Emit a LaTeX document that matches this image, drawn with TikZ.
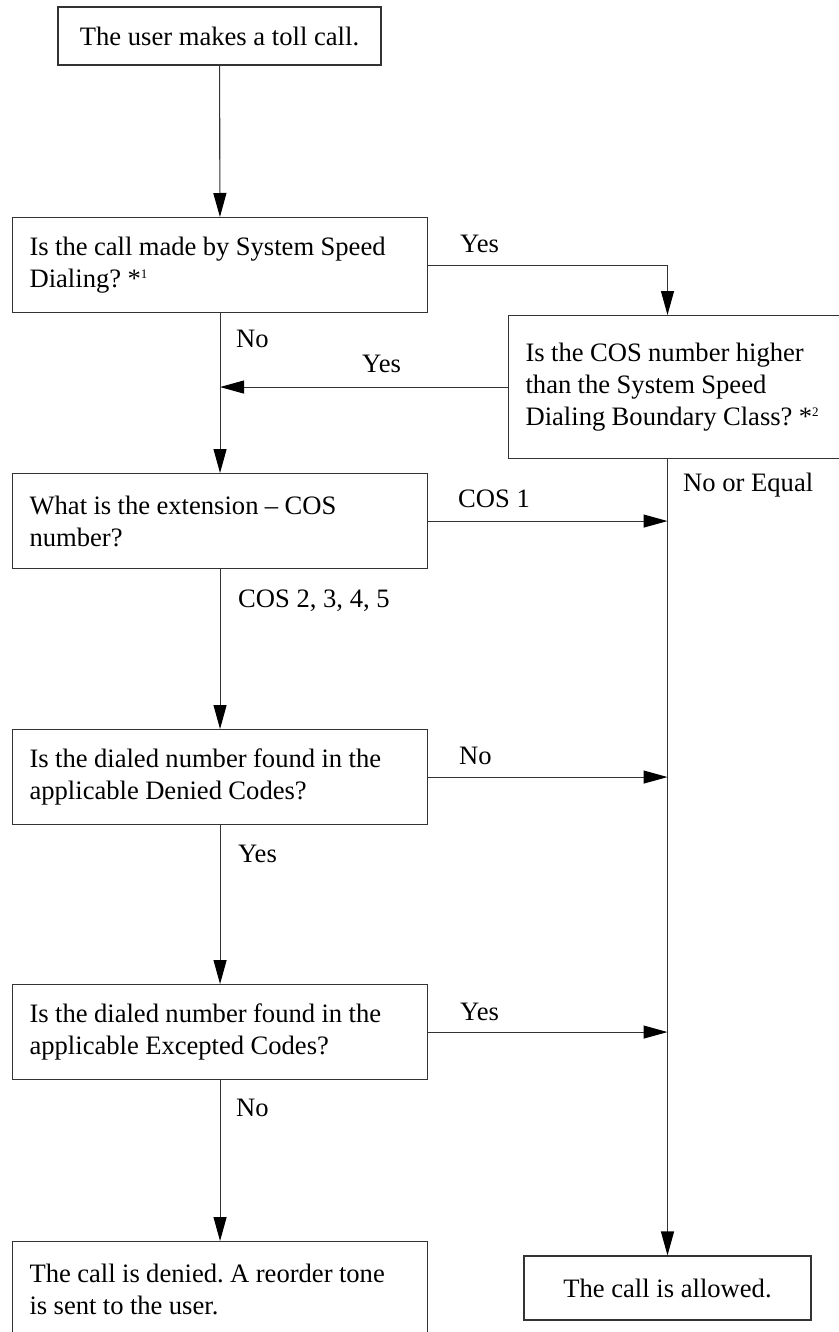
\documentclass[tikz,border=0pt]{standalone}
\usepackage{fontspec}
\setmainfont{Liberation Serif}
\usetikzlibrary{arrows.meta,positioning}
\definecolor{FlowInk}{HTML}{333333}
\newcommand{\notemark}[1]{*\raisebox{8.5pt}{\fontsize{13}{13}\selectfont #1}}
\newcommand{\boxfont}{\fontsize{26.6}{32}\selectfont\frenchspacing}
\newcommand{\tightwords}{\spaceskip=6.4pt minus 1pt\relax}
\tikzset{
  flow/.style={-{Triangle[length=24pt,width=13pt,black]}, line width=1.1pt, draw=FlowInk},
  stage/.style={draw=FlowInk, line width=1.1pt, fill=white, inner xsep=17pt, inner ysep=0pt, font=\boxfont},
  query/.style={stage, align=left, minimum width=415pt, minimum height=95pt, text width=381pt,
                execute at begin node=\tightwords},
  ending/.style={stage, align=center},
  answer/.style={inner sep=0pt, anchor=base west, font=\boxfont},
}

\begin{document}
\begin{tikzpicture}[x=1pt,y=-1pt]
        \useasboundingbox (0,0) rectangle (838,1332);
        % boxes
        \node[ending,minimum width=323pt,minimum height=58pt] (start) at (219.5,36) {The user makes a toll call.};
        \node[query,anchor=north west] (speed) at (12,217) {Is the call made by System Speed\\Dialing? \notemark{1}};
        \node[query,anchor=north west,minimum width=352pt,minimum height=143pt,text width=318pt] (boundary) at (508,315)
              {Is the COS number higher\\than the System Speed\\Dialing Boundary Class? \notemark{2}};
        \node[query,anchor=north west] (cos) at (12,473) {What is the extension -- COS\\number?};
        \node[query,anchor=north west] (denied) at (12,729) {Is the dialed number found in the\\applicable Denied Codes?};
        \node[query,anchor=north west] (excepted) at (12,984) {Is the dialed number found in the\\applicable Excepted Codes?};
        \node[query,anchor=north west] (reject) at (12,1241) {The call is denied. A reorder tone\\is sent to the user.};
        \node[ending,minimum width=287pt,minimum height=64pt] (allowed) at (667.5,1288) {The call is allowed.};
        % answers
        \node[answer] (yes1) at (460,252) {Yes};
        \node[answer] (no1) at (236,347) {No};
        \node[answer] (yes2) at (362,372) {Yes};
        \node[answer] (noeq) at (683,491) {No or Equal};
        \node[answer] (cos1) at (458,507) {COS 1};
        \node[answer] (cosrest) at (238,607) {COS 2, 3, 4, 5};
        \node[answer] (no2) at (459,764) {No};
        \node[answer] (yes3) at (238,862) {Yes};
        \node[answer] (yes4) at (460,1020) {Yes};
        \node[answer] (no3) at (236,1116) {No};
        % connectors
        \draw[flow] (start) -- (speed);
        \draw[flow] (speed.east) -| (allowed.north |- boundary.north);
        \draw[flow] (boundary.west) -- (speed.south |- boundary.west);
        \draw[flow] (speed) -- (cos);
        \draw[line width=1.1pt,draw=FlowInk] (allowed.north |- boundary.south) -- (allowed.north |- cos.east);
        \draw[flow] (allowed.north |- cos.east) -- (allowed);
        \draw[flow] (cos.east) -- (cos.east -| allowed.north);
        \draw[flow] (cos) -- (denied);
        \draw[flow] (denied.east) -- (denied.east -| allowed.north);
        \draw[flow] (denied) -- (excepted);
        \draw[flow] (excepted.east) -- (excepted.east -| allowed.north);
        \draw[flow] (excepted) -- (reject);
      \end{tikzpicture}
\end{document}
